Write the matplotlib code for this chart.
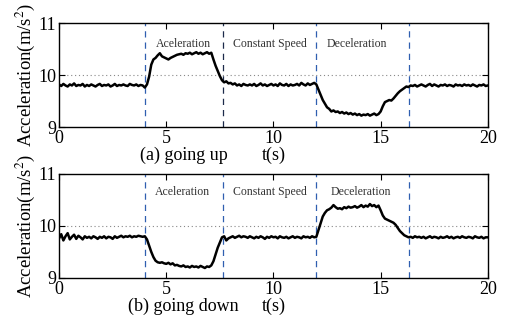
import numpy as np
import matplotlib.pyplot as plt

plt.rcParams['font.family'] = ['Liberation Serif', 'DejaVu Serif']
plt.rcParams['mathtext.fontset'] = 'stix'

# time axis: 0 .. 20 s, 0.1 s step
t = np.arange(201) / 10.0

# (a) going up
acc_up = [
    9.82, 9.79, 9.83, 9.80, 9.78, 9.82, 9.80, 9.84, 9.79, 9.81,
    9.80, 9.83, 9.78, 9.81, 9.79, 9.82, 9.80, 9.78, 9.81, 9.83,
    9.79, 9.81, 9.80, 9.82, 9.78, 9.80, 9.83, 9.79, 9.81, 9.80,
    9.82, 9.80, 9.79, 9.83, 9.81, 9.80, 9.82, 9.79, 9.81, 9.80,
    9.76, 9.82, 9.97, 10.20, 10.30, 10.33, 10.38, 10.42, 10.36, 10.34,
    10.32, 10.30, 10.33, 10.35, 10.37, 10.39, 10.40, 10.41, 10.39, 10.42,
    10.41, 10.43, 10.40, 10.42, 10.44, 10.41, 10.43, 10.40, 10.42, 10.44,
    10.41, 10.43, 10.30, 10.18, 10.08, 9.98, 9.90, 9.86, 9.88, 9.84,
    9.85, 9.82, 9.84, 9.80, 9.82, 9.79, 9.83, 9.81, 9.80, 9.82,
    9.80, 9.83, 9.79, 9.81, 9.84, 9.80, 9.82, 9.79, 9.81, 9.83,
    9.80, 9.82, 9.79, 9.84, 9.81, 9.80, 9.83, 9.79, 9.82, 9.80,
    9.81, 9.83, 9.80, 9.85, 9.82, 9.80, 9.84, 9.81, 9.83, 9.85,
    9.82, 9.72, 9.62, 9.52, 9.45, 9.38, 9.35, 9.30, 9.32, 9.29,
    9.30, 9.27, 9.29, 9.26, 9.28, 9.25, 9.27, 9.24, 9.26, 9.23,
    9.25, 9.22, 9.24, 9.23, 9.25, 9.22, 9.24, 9.26, 9.23, 9.25,
    9.30, 9.40, 9.48, 9.50, 9.52, 9.51, 9.55, 9.60, 9.65, 9.69,
    9.72, 9.75, 9.78, 9.77, 9.80, 9.79, 9.81, 9.78, 9.80, 9.82,
    9.80, 9.78, 9.81, 9.83, 9.79, 9.82, 9.80, 9.78, 9.81, 9.80,
    9.82, 9.79, 9.81, 9.80, 9.78, 9.82, 9.80, 9.81, 9.79, 9.82,
    9.80, 9.81, 9.79, 9.82, 9.80, 9.78, 9.81, 9.80, 9.82, 9.79,
    9.80,
]

# (b) going down
acc_down = [
    9.76, 9.84, 9.72, 9.80, 9.86, 9.74, 9.79, 9.83, 9.75, 9.81,
    9.78, 9.74, 9.80, 9.77, 9.79, 9.76, 9.80, 9.78, 9.75, 9.79,
    9.77, 9.80, 9.76, 9.79, 9.78, 9.75, 9.80, 9.77, 9.79, 9.81,
    9.78, 9.80, 9.79, 9.81, 9.78, 9.80, 9.79, 9.81, 9.80, 9.79,
    9.80, 9.74, 9.62, 9.50, 9.40, 9.33, 9.30, 9.29, 9.30, 9.28,
    9.27, 9.29, 9.26, 9.28, 9.24, 9.25, 9.23, 9.22, 9.24, 9.21,
    9.22, 9.20, 9.23, 9.21, 9.22, 9.20, 9.23, 9.21, 9.19, 9.22,
    9.21, 9.24, 9.32, 9.45, 9.58, 9.68, 9.78, 9.80, 9.72, 9.76,
    9.78, 9.80, 9.77, 9.79, 9.81, 9.78, 9.80, 9.79, 9.77, 9.80,
    9.78, 9.76, 9.79, 9.77, 9.80, 9.78, 9.75, 9.79, 9.77, 9.80,
    9.78, 9.79, 9.76, 9.80, 9.78, 9.77, 9.79, 9.76, 9.78, 9.80,
    9.77, 9.79, 9.78, 9.76, 9.80, 9.78, 9.79, 9.77, 9.80, 9.78,
    9.79, 9.92, 10.05, 10.18, 10.25, 10.30, 10.32, 10.35, 10.40, 10.36,
    10.33, 10.34, 10.32, 10.36, 10.34, 10.37, 10.35, 10.36, 10.38, 10.35,
    10.37, 10.40, 10.36, 10.39, 10.37, 10.42, 10.38, 10.40, 10.36, 10.39,
    10.30, 10.20, 10.14, 10.12, 10.10, 10.08, 10.06, 10.02, 9.96, 9.90,
    9.86, 9.82, 9.80, 9.78, 9.79, 9.77, 9.80, 9.78, 9.79, 9.77,
    9.79, 9.76, 9.78, 9.80, 9.77, 9.79, 9.78, 9.76, 9.79, 9.77,
    9.78, 9.80, 9.77, 9.79, 9.76, 9.78, 9.79, 9.77, 9.80, 9.78,
    9.77, 9.79, 9.78, 9.76, 9.80, 9.78, 9.77, 9.79, 9.76, 9.78,
    9.78,
]

phase_up = [4.0, 7.66, 12.0, 16.3]
phase_down = [4.0, 7.63, 12.0, 16.3]
phase_names = ['Aceleration', 'Constant Speed', 'Deceleration']
xticks = [0, 5, 10, 15, 20]
yticks = [9, 10, 11]

fig = plt.figure(figsize=(5.05, 3.25), dpi=100)
ax1 = fig.add_axes([0.117, 0.609, 0.849, 0.320])
ax2 = fig.add_axes([0.117, 0.145, 0.849, 0.320])

panels = [
    (ax1, acc_up, phase_up, '(a) going up', [5.8, 9.85, 13.9], 10.6, ['#2f5fb0', '#1c2a4a', '#2f5fb0', '#2f5fb0']),
    (ax2, acc_down, phase_down, '(b) going down', [5.75, 9.85, 14.1], 10.65, ['#2f5fb0', '#2f5fb0', '#2f5fb0', '#2f5fb0']),
]

for ax, acc, phases, cap, txt_x, txt_y, vcols in panels:
    ax.axhline(10, color='#888888', lw=0.8, ls=(0, (1, 2.5)), zorder=1)
    for xv, c in zip(phases, vcols):
        ax.axvline(xv, color=c, lw=0.9, ls=(0, (5, 4)), zorder=2)
    ax.plot(t, acc, color='black', lw=1.8, zorder=3)
    for xx, name in zip(txt_x, phase_names):
        ax.text(xx, txt_y, name, ha='center', va='center', fontsize=8.5, color='#333333')
    ax.set_xlim(0, 20)
    ax.set_ylim(9, 11)
    ax.set_xticks(xticks)
    ax.set_yticks(yticks)
    ax.tick_params(direction='in', top=True, right=True, length=4, width=0.8,
                   labelsize=13, pad=2)
    for s in ax.spines.values():
        s.set_linewidth(1.0)
    ax.set_ylabel('Acceleration(m/s$^2$)', fontsize=13.5, labelpad=0)
    ax.yaxis.set_label_coords(-0.052, 0.5)
    ax.text(0.5, -0.27, 't(s)', transform=ax.transAxes, ha='center', va='center', fontsize=13)
    ax.text(0.29, -0.27, cap, transform=ax.transAxes, ha='center', va='center', fontsize=13)

fig.savefig('out.png', dpi=100)
